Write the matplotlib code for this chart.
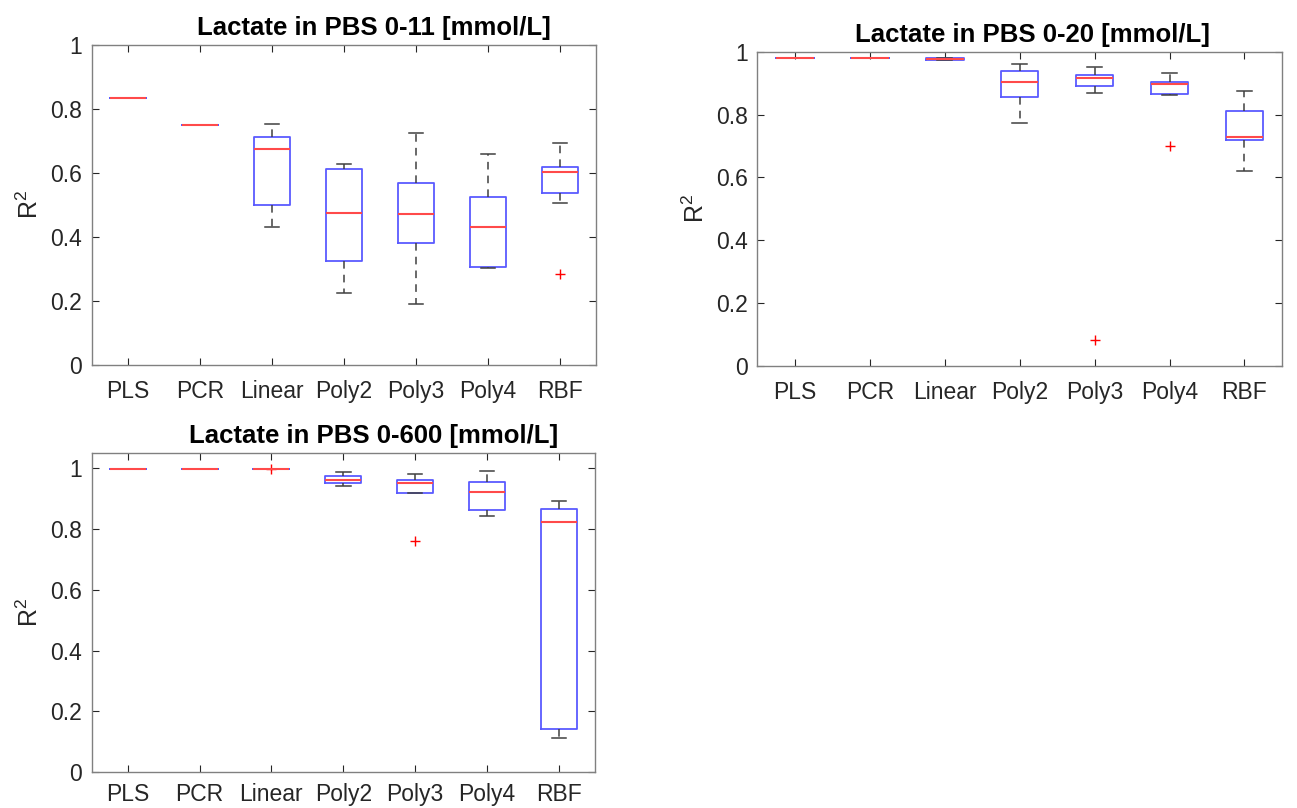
import matplotlib
matplotlib.use("Agg")
import matplotlib.pyplot as plt
from matplotlib.ticker import FormatStrFormatter, FixedLocator

plt.rcParams['font.family'] = ['Liberation Sans', 'DejaVu Sans']
plt.rcParams['mathtext.fontset'] = 'custom'
plt.rcParams['mathtext.rm'] = 'Liberation Sans'
plt.rcParams['mathtext.it'] = 'Liberation Sans'

categories = ["PLS", "PCR", "Linear", "Poly2", "Poly3", "Poly4", "RBF"]

# Panel 1: Lactate in PBS 0-11
p1_title = "Lactate in PBS 0-11 [mmol/L]"
p1_med    = [0.832, 0.748, 0.675, 0.473, 0.472, 0.431, 0.602]
p1_q1     = [0.832, 0.748, 0.499, 0.326, 0.381, 0.306, 0.538]
p1_q3     = [0.832, 0.748, 0.712, 0.611, 0.567, 0.523, 0.618]
p1_wlo    = [0.832, 0.748, 0.430, 0.225, 0.189, 0.302, 0.507]
p1_whi    = [0.832, 0.748, 0.751, 0.626, 0.724, 0.660, 0.693]
p1_fliers = [[], [], [], [], [], [], [0.285]]
p1_ylim = (0, 1)

# Panel 2: Lactate in PBS 0-20
p2_title = "Lactate in PBS 0-20 [mmol/L]"
p2_med    = [0.981, 0.981, 0.977, 0.902, 0.916, 0.896, 0.728]
p2_q1     = [0.981, 0.981, 0.975, 0.857, 0.892, 0.864, 0.718]
p2_q3     = [0.981, 0.981, 0.979, 0.938, 0.926, 0.903, 0.812]
p2_wlo    = [0.981, 0.981, 0.975, 0.774, 0.870, 0.862, 0.621]
p2_whi    = [0.981, 0.981, 0.979, 0.962, 0.951, 0.932, 0.874]
p2_fliers = [[], [], [], [], [0.081], [0.699], []]
p2_ylim = (0, 1)

# Panel 3: Lactate in PBS 0-600
p3_title = "Lactate in PBS 0-600 [mmol/L]"
p3_med    = [0.997, 0.997, 0.997, 0.959, 0.949, 0.920, 0.822]
p3_q1     = [0.997, 0.997, 0.997, 0.950, 0.919, 0.861, 0.143]
p3_q3     = [0.997, 0.997, 0.997, 0.972, 0.959, 0.953, 0.864]
p3_wlo    = [0.997, 0.997, 0.997, 0.941, 0.919, 0.843, 0.114]
p3_whi    = [0.997, 0.997, 0.997, 0.986, 0.980, 0.991, 0.893]
p3_fliers = [[], [], [0.995], [], [0.761], [], []]
p3_ylim = (0, 1.05)

yticks = [0, 0.2, 0.4, 0.6, 0.8, 1]

fig = plt.figure(figsize=(12.97, 8.08), dpi=100)

axcol = '#262626'

def draw(rect, title, med, q1, q3, wlo, whi, fliers, ylim, tx, xpad):
    ax = fig.add_axes(rect)
    stats = []
    for i in range(len(categories)):
        stats.append(dict(med=med[i], q1=q1[i], q3=q3[i], whislo=wlo[i],
                          whishi=whi[i], fliers=fliers[i], label=categories[i]))
    ax.bxp(stats, positions=range(1, len(categories) + 1), widths=0.5,
           capwidths=0.2, showfliers=True,
           boxprops=dict(color='#5a5aff', linewidth=1.3),
           medianprops=dict(color='#ff4a4a', linewidth=1.5),
           whiskerprops=dict(color='#404040', linewidth=1.1, linestyle=(0, (5.0, 4.0))),
           capprops=dict(color='#404040', linewidth=1.1),
           flierprops=dict(marker='+', markeredgecolor='#ff0000', markersize=7,
                           markeredgewidth=1.0, linestyle='none'))
    ax.set_xlim(0.5, len(categories) + 0.5)
    ax.set_ylim(*ylim)
    ax.yaxis.set_major_locator(FixedLocator(yticks))
    ax.yaxis.set_major_formatter(FormatStrFormatter('%g'))
    ax.set_xticks(range(1, len(categories) + 1))
    ax.set_xticklabels(categories)
    ax.tick_params(direction='in', top=True, right=True, length=5, width=0.8,
                   colors=axcol, labelsize=16.5, labelcolor=axcol)
    ax.tick_params(axis='x', pad=xpad)
    ax.tick_params(axis='y', pad=7)
    for s in ax.spines.values():
        s.set_color('#808080')
        s.set_linewidth(1.0)
    ax.set_ylabel('R$^2$', fontsize=18, color=axcol, labelpad=5)
    ax.set_title(title, fontsize=18.5, fontweight='bold', x=tx, pad=7, color='black')
    return ax

draw([0.0707, 0.5483, 0.3886, 0.3964], p1_title, p1_med, p1_q1, p1_q3, p1_wlo, p1_whi, p1_fliers, p1_ylim, 0.56, 11)
draw([0.5840, 0.5474, 0.4044, 0.3886], p2_title, p2_med, p2_q1, p2_q3, p2_wlo, p2_whi, p2_fliers, p2_ylim, 0.525, 11)
draw([0.0707, 0.0442, 0.3880, 0.3955], p3_title, p3_med, p3_q1, p3_q3, p3_wlo, p3_whi, p3_fliers, p3_ylim, 0.56, 7.5)

fig.savefig('out.png', dpi=100)
